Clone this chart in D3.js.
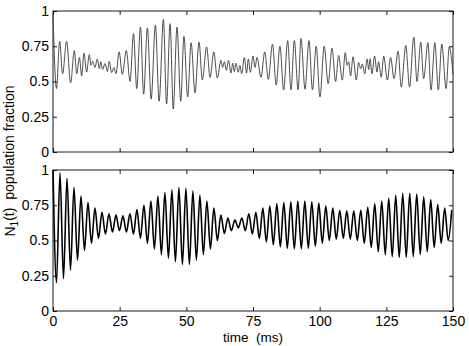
<!DOCTYPE html>
<html>
<head>
<meta charset="utf-8">
<script src="https://cdn.jsdelivr.net/npm/d3@7"></script>
<style>
  body { margin: 0; background: #fff; }
  svg text { font-family: "Liberation Sans", Arial, Helvetica, sans-serif; }
</style>
</head>
<body>
<script>
const w = 469;
const h = 346;
const left = 53;
const right = 453;
const panels = [
  { top: 11, bottom: 152 },
  { top: 170, bottom: 311 },
];

// top panel: local maxima / minima (time in ms, fraction)
const topTimes = [
  0, 1.3, 2.5, 3.6, 5.1, 6.6, 8.0, 8.9, 9.9, 10.75,
  11.6, 12.6, 13.6, 14.25, 14.9, 15.75, 16.6, 17.4, 17.9, 18.6,
  19.5, 20.4, 21.1, 22.0, 22.9, 23.6, 24.8, 26.0, 27.5, 28.9,
  30.2, 31.4, 32.8, 34.0, 35.4, 36.8, 38.4, 39.8, 41.4, 42.6,
  43.9, 45.1, 46.5, 47.9, 49.1, 50.5, 51.8, 53.25, 54.75, 56.0,
  57.6, 58.9, 60.3, 61.6, 63.0, 63.6, 64.3, 65.0, 65.8, 66.75,
  67.4, 68.0, 68.6, 69.5, 70.1, 70.75, 71.75, 72.6, 73.25, 74.0,
  75.0, 75.75, 76.5, 78.0, 79.4, 80.75, 82.3, 83.7, 85.1, 86.5,
  88.0, 89.25, 90.5, 91.9, 93.0, 94.5, 96.0, 97.3, 98.7, 100.1,
  101.7, 103.2, 104.6, 106.0, 107.1, 108.5, 109.6, 110.3, 110.9, 111.6,
  112.5, 113.75, 114.6, 115.4, 116.0, 116.9, 117.8, 118.4, 118.9, 119.6,
  120.6, 121.5, 122.1, 123.1, 124.0, 125.4, 126.6, 127.9, 129.4, 130.6,
  132.3, 133.7, 135.3, 136.5, 137.9, 139.0, 140.6, 141.75, 143.2, 144.5,
  145.8, 147.4, 148.6, 150,
];
const topValues = [
  0.97, 0.45, 0.785, 0.555, 0.785, 0.49, 0.72, 0.555, 0.67, 0.54,
  0.70, 0.567, 0.69, 0.615, 0.643, 0.60, 0.66, 0.59, 0.64, 0.585,
  0.627, 0.57, 0.643, 0.563, 0.60, 0.555, 0.71, 0.55, 0.72, 0.50,
  0.84, 0.45, 0.885, 0.41, 0.88, 0.375, 0.90, 0.36, 0.94, 0.34,
  0.91, 0.305, 0.885, 0.36, 0.82, 0.39, 0.775, 0.42, 0.78, 0.51,
  0.745, 0.53, 0.71, 0.525, 0.65, 0.60, 0.64, 0.58, 0.65, 0.56,
  0.63, 0.57, 0.63, 0.565, 0.615, 0.555, 0.67, 0.56, 0.66, 0.565,
  0.68, 0.60, 0.67, 0.53, 0.71, 0.515, 0.765, 0.475, 0.75, 0.44,
  0.79, 0.44, 0.79, 0.44, 0.805, 0.445, 0.79, 0.44, 0.75, 0.39,
  0.75, 0.485, 0.735, 0.50, 0.685, 0.51, 0.705, 0.615, 0.64, 0.54,
  0.675, 0.51, 0.635, 0.59, 0.625, 0.555, 0.66, 0.585, 0.66, 0.555,
  0.68, 0.567, 0.64, 0.53, 0.68, 0.51, 0.67, 0.52, 0.715, 0.46,
  0.755, 0.46, 0.815, 0.50, 0.78, 0.52, 0.775, 0.44, 0.775, 0.44,
  0.765, 0.45, 0.745, 0.55,
];

// bottom panel: one peak and one trough per oscillation period
const bottomPeriod = 2.623; // ms, read from the peak spacing
const bottomPeaks = [
  1.0, 0.98, 0.94, 0.877, 0.815, 0.77, 0.73, 0.70, 0.69, 0.68,
  0.675, 0.69, 0.72, 0.75, 0.78, 0.815, 0.84, 0.86, 0.875, 0.87,
  0.85, 0.82, 0.78, 0.73, 0.68, 0.66, 0.645, 0.66, 0.69, 0.70,
  0.73, 0.745, 0.76, 0.77, 0.775, 0.78, 0.78, 0.775, 0.765, 0.745,
  0.73, 0.715, 0.71, 0.71, 0.715, 0.735, 0.76, 0.78, 0.80, 0.82,
  0.835, 0.835, 0.83, 0.81, 0.79, 0.755, 0.73, 0.715,
];
const bottomTroughs = [
  0.20, 0.23, 0.29, 0.36, 0.43, 0.48, 0.515, 0.545, 0.56, 0.57,
  0.56, 0.545, 0.515, 0.48, 0.44, 0.40, 0.375, 0.35, 0.33, 0.33,
  0.36, 0.40, 0.44, 0.50, 0.55, 0.57, 0.59, 0.57, 0.545, 0.515,
  0.49, 0.47, 0.455, 0.445, 0.44, 0.44, 0.445, 0.46, 0.48, 0.50,
  0.51, 0.515, 0.51, 0.50, 0.48, 0.45, 0.42, 0.40, 0.385, 0.38,
  0.38, 0.385, 0.40, 0.42, 0.45, 0.48, 0.50,
];

const xTicks = [0, 25, 50, 75, 100, 125, 150];
const yTicks = [0, 0.25, 0.5, 0.75, 1];

const topData = topTimes.map((t, i) => [t, topValues[i]]);
const bottomData = [];
bottomPeaks.forEach((v, i) => {
  bottomData.push([i * bottomPeriod, v]);
  if (i < bottomTroughs.length) bottomData.push([(i + 0.5) * bottomPeriod, bottomTroughs[i]]);
});

const svg = d3
  .select('body')
  .append('svg')
  .attr('width', w)
  .attr('height', h);

const xScale = d3.scaleLinear().domain([0, 150]).range([left, right]);

const drawPanel = (p, data, color, width, showXLabels) => {
  const yScale = d3.scaleLinear().domain([0, 1]).range([p.bottom, p.top]);
  const g = svg.append('g');

  g.append('rect')
    .attr('x', left)
    .attr('y', p.top)
    .attr('width', right - left)
    .attr('height', p.bottom - p.top)
    .attr('fill', 'none')
    .attr('stroke', '#000')
    .attr('stroke-width', 0.9);

  const line = d3
    .line()
    .x((d) => xScale(d[0]))
    .y((d) => yScale(d[1]))
    .curve(d3.curveMonotoneX);

  g.append('path')
    .datum(data)
    .attr('d', line)
    .attr('fill', 'none')
    .attr('stroke', color)
    .attr('stroke-width', width)
    .attr('stroke-linejoin', 'round');

  const yAxis = d3.axisLeft(yScale).tickValues(yTicks).tickFormat((d) => String(d))
    .tickSizeInner(-4).tickSizeOuter(0).tickPadding(4);
  const yAxisR = d3.axisRight(yScale).tickValues(yTicks).tickFormat('')
    .tickSizeInner(-4).tickSizeOuter(0);
  const xAxis = d3.axisBottom(xScale).tickValues(xTicks)
    .tickFormat(showXLabels ? (d) => String(d) : '')
    .tickSizeInner(-4).tickSizeOuter(0).tickPadding(5);
  const xAxisT = d3.axisTop(xScale).tickValues(xTicks).tickFormat('')
    .tickSizeInner(-4).tickSizeOuter(0);

  g.append('g').attr('transform', `translate(${left},0)`).call(yAxis);
  g.append('g').attr('transform', `translate(${right},0)`).call(yAxisR);
  g.append('g').attr('transform', `translate(0,${p.bottom})`).call(xAxis);
  g.append('g').attr('transform', `translate(0,${p.top})`).call(xAxisT);

  g.selectAll('.domain').remove();
  g.selectAll('.tick line').attr('stroke', '#000').attr('stroke-width', 0.9);
  g.selectAll('.tick text')
    .attr('fill', '#000')
    .style('font-size', '14px')
    .style('font-family', '"Liberation Sans", Arial, Helvetica, sans-serif');
};

drawPanel(panels[0], topData, '#3a3a3a', 0.9, false);
drawPanel(panels[1], bottomData, '#000', 1.6, true);

svg
  .append('text')
  .attr('x', (left + right) / 2)
  .attr('y', 342)
  .attr('text-anchor', 'middle')
  .style('font-size', '13.5px')
  .style('white-space', 'pre')
  .text('time  (ms)');

const yLabel = svg
  .append('text')
  .attr('transform', 'rotate(-90)')
  .attr('x', -161)
  .attr('y', 15)
  .attr('text-anchor', 'middle')
  .style('font-size', '14px')
  .style('white-space', 'pre');
yLabel.append('tspan').text('N');
yLabel.append('tspan').attr('dy', '0.3em').style('font-size', '10px').text('1');
yLabel.append('tspan').attr('dy', '-0.3em').text('(t)  population fraction');
</script>
</body>
</html>
